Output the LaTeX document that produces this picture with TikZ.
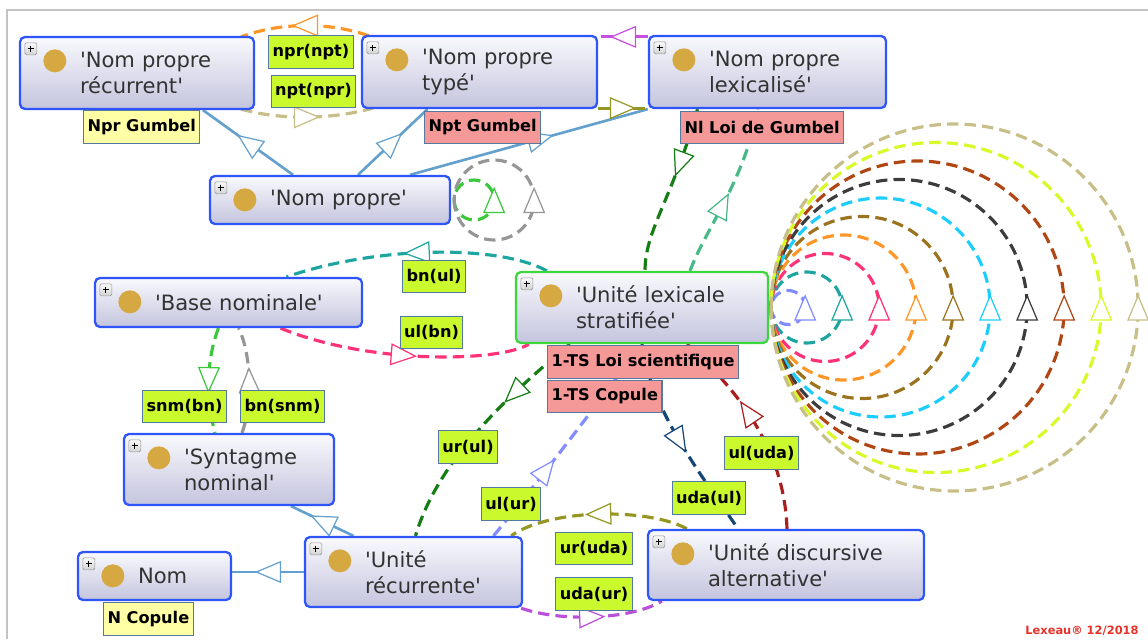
\documentclass[tikz,border=0pt]{standalone}
\usepackage{fontspec}
\setmainfont{DejaVu Sans}[Ligatures=TeXOff]
\usepackage{xcolor}
\usetikzlibrary{arrows.meta,decorations.markings}

% Box and tag colours
\definecolor{clsTop}{RGB}{249,249,253}
\definecolor{clsBot}{RGB}{196,196,222}
\definecolor{clsBlue}{RGB}{45,85,250}
\definecolor{clsGreen}{RGB}{60,215,60}
\definecolor{clsText}{RGB}{50,50,50}
\definecolor{dotGold}{RGB}{214,168,66}
\definecolor{tagLine}{RGB}{85,120,160}
\definecolor{tagLime}{RGB}{202,250,45}
\definecolor{tagYellow}{RGB}{255,255,165}
\definecolor{tagPink}{RGB}{245,152,152}
\definecolor{isaBlue}{RGB}{100,160,205}
\definecolor{frameGray}{RGB}{195,195,195}
\definecolor{markRed}{RGB}{230,50,40}
% Property colours
\definecolor{cOrange}{RGB}{255,150,40}
\definecolor{cTan}{RGB}{200,190,135}
\definecolor{cMagenta}{RGB}{200,80,225}
\definecolor{cOlive}{RGB}{150,150,35}
\definecolor{cGreen}{RGB}{60,200,60}
\definecolor{cGray}{RGB}{150,150,150}
\definecolor{cDarkGreen}{RGB}{20,125,20}
\definecolor{cSeaGreen}{RGB}{70,185,135}
\definecolor{cTeal}{RGB}{30,165,160}
\definecolor{cPink}{RGB}{255,50,120}
\definecolor{cPeri}{RGB}{130,140,255}
\definecolor{cNavy}{RGB}{20,70,120}
\definecolor{cDarkRed}{RGB}{170,30,30}
\definecolor{cPurple}{RGB}{185,80,220}
\definecolor{cBrown}{RGB}{155,115,30}
\definecolor{cCyan}{RGB}{30,205,255}
\definecolor{cCoal}{RGB}{60,60,60}
\definecolor{cRust}{RGB}{175,70,20}
\definecolor{cLemon}{RGB}{215,250,40}

\tikzset{openTri/.tip={Triangle[length=15pt,width=12.5pt,fill=white,line width=0.7pt]}}

\pgfdeclarelayer{bg}
\pgfsetlayers{bg,main}

\begin{document}
\begin{tikzpicture}[
    x=0.2mm,
    y=-0.2mm,
    midarrow/.style={postaction={decorate},
        decoration={markings,
            mark=at position #1 with {\arrow[xshift=7.5pt]{openTri}}}},
    midarrow/.default=0.5,
    isa/.style={draw=isaBlue,line width=1.5pt,midarrow=#1},
    isa/.default=0.5,
    rel/.style 2 args={draw=#1,line width=1.8pt,
        dash pattern=on 6.5pt off 3.5pt,midarrow=#2},
    cls/.style 2 args={rectangle,rounded corners=1mm,
        draw=clsBlue,line width=1.3pt,
        top color=clsTop,bottom color=clsBot,
        minimum width=#1*0.2mm,minimum height=#2*0.2mm,
        text width=(#1-10)*0.2mm,inner xsep=0pt,inner ysep=0pt,
        align=left,text=clsText,
        font=\fontsize{12}{14.7}\selectfont,
        execute at begin node={\leftskip=11mm}},
    tag/.style={rectangle,draw=tagLine,line width=0.6pt,fill=#1,
        minimum height=6.5mm,inner xsep=0.8mm,inner ysep=0pt,
        font=\fontsize{9.2}{10}\selectfont\bfseries},
    tag/.default=tagLime,
    plusicon/.style={draw=gray!80,top color=gray!5,bottom color=gray!35,
        line width=0.4pt,rounded corners=0.3mm}
]

\useasboundingbox (0,0) rectangle (1148,639);

% Panel frame
\draw[frameGray,line width=0.6pt] (7,639) -- (7,10) -- (1148,10);

% Classes
\node[cls={234}{72}] (npr) at (137,73) {'Nom propre\\récurrent'};
\node[cls={235}{72}] (npt) at (479.5,72) {'Nom propre\\typé'};
\node[cls={237}{72}] (npl) at (767.5,72) {'Nom propre\\lexicalisé'};
\node[cls={240}{48}] (np) at (330,200) {'Nom propre'};
\node[cls={267}{49}] (bn) at (228.5,302.5) {'Base nominale'};
\node[cls={252}{71},draw=clsGreen] (ul) at (642,307.5)
    {'Unité lexicale\\stratifiée'};
\node[cls={210}{71}] (snm) at (229,469.5) {'Syntagme\\nominal'};
\node[cls={153}{48}] (nom) at (154.5,576) {Nom};
\node[cls={217}{70}] (ur) at (413.5,572) {'Unité\\récurrente'};
\node[cls={276}{70}] (uda) at (786,565)
    {'Unité discursive\\alternative'};

% Expand icon and class dot
\foreach \n in {npr,npt,npl,np,bn,ul,snm,nom,ur,uda}{
  \draw[plusicon] ([shift={(6,7)}]\n.north west) rectangle ++(12,12);
  \draw[line width=0.7pt]
    ([shift={(9,13)}]\n.north west) -- ++(6,0)
    ([shift={(12,10)}]\n.north west) -- ++(0,6);
  \fill[dotGold] ([shift={(36,25)}]\n.north west) circle[radius=11.5];
}

% Annotations
\node[tag=tagYellow,anchor=west] (nprNote) at (83,127) {Npr Gumbel};
\node[tag=tagPink,anchor=west] (nptNote) at (424,127.5) {Npt Gumbel};
\node[tag=tagPink,anchor=west] (nplNote) at (680,127.5) {Nl Loi de Gumbel};
\node[tag=tagPink,anchor=west] (ulNoteA) at (547,362)
    {1-TS Loi scientifique};
\node[tag=tagPink,anchor=west] (ulNoteB) at (547,396.5) {1-TS Copule};
\node[tag=tagYellow,anchor=west] (nomNote) at (103,619) {N Copule};

% Property names
\node[tag] (lNprNpt) at (311,52) {npr(npt)};
\node[tag] (lNptNpr) at (313.5,91.5) {npt(npr)};
\node[tag] (lBnUl) at (434,276.5) {bn(ul)};
\node[tag] (lUlBn) at (431.5,332.5) {ul(bn)};
\node[tag] (lSnmBn) at (184.5,406.5) {snm(bn)};
\node[tag] (lBnSnm) at (282.5,406.5) {bn(snm)};
\node[tag] (lUrUl) at (468,447) {ur(ul)};
\node[tag] (lUlUr) at (511,504) {ul(ur)};
\node[tag] (lUlUda) at (761.5,453) {ul(uda)};
\node[tag] (lUdaUl) at (709,498) {uda(ul)};
\node[tag] (lUrUda) at (594,548.5) {ur(uda)};
\node[tag] (lUdaUr) at (594,594) {uda(ur)};

% Stamp
\node[anchor=base west,inner sep=0pt,text=markRed,
    font=\fontsize{6.5}{8}\selectfont\bfseries] (stamp) at (1025,634)
    {Lexeau® 12/2018};

\begin{pgfonlayer}{bg}
% Subclass links
\draw[isa] ([shift={(-37,0)}]np.north) -- ([shift={(66,0)}]npr.south);
\draw[isa] ([shift={(28,0)}]np.north) -- ([shift={(-52,0)}]npt.south);
\draw[isa=0.55] ([shift={(80,0)}]np.north) -- (npl.south west);
\draw[isa] ([shift={(-60,0)}]ur.north) -- ([shift={(62,0)}]snm.south);
\draw[isa] (ur.west) -- (ur.west -| nom.east);

% Top row properties
\draw[rel={cOrange}{0.5}] ([shift={(8,1)}]npt.north west)
    .. controls (330,22) and (280,22) .. ([shift={(-14,1)}]npr.north east);
\draw[rel={cTan}{0.5}] ([shift={(-14,-1)}]npr.south east)
    .. controls (280,120) and (330,120) .. ([shift={(12,-1)}]npt.south west);
\draw[rel={cMagenta}{0.5}] ([shift={(0,2)}]npl.north west)
    -- ([shift={(0,2)}]npt.north east);
\draw[rel={cOlive}{0.5}] ([shift={(0,-1)}]npt.south east)
    -- ([shift={(0,-1)}]npl.south west);

% Self loops
\draw[rel={cGreen}{0.5}] ([shift={(3,0)}]np.east)
    arc[start angle=180,end angle=-180,radius=20];
\draw[rel={cGray}{0.5}] ([shift={(3,0)}]np.east)
    arc[start angle=180,end angle=-180,radius=40];
\foreach \c [count=\i from 0] in
    {cPeri,cTeal,cPink,cOrange,cBrown,cCyan,cCoal,cRust,cLemon,cTan}
  \draw[rel={\c}{0.5}] ([shift={(2,0)}]ul.east)
    arc[start angle=180,end angle=-180,radius={17+18.5*\i}];

% Links of the stratified unit
\draw[rel={cDarkGreen}{0.34}] ([shift={(-70,0)}]npl.south)
    .. controls (672,200) and (645,230) .. ([shift={(3,0)}]ul.north);
\draw[rel={cSeaGreen}{0.42}] ([shift={(48,0)}]ul.north)
    .. controls (705,230) and (745,180) .. ([shift={(-10,0)}]npl.south);
\draw[rel={cTeal}{0.5}] ([shift={(32,0)}]ul.north west)
    .. controls (500,245) and (380,245) .. ([shift={(58,0)}]bn.north);
\draw[rel={cPink}{0.5}] ([shift={(52,0)}]bn.south)
    .. controls (370,365) and (500,362) .. ([shift={(14,0)}]ul.south west);
\draw[rel={cGreen}{0.5}] ([shift={(-10,0)}]bn.south)
    .. controls (206,360) and (206,400) .. ([shift={(-14,0)}]snm.north);
\draw[rel={cGray}{0.5}] ([shift={(13,0)}]snm.north)
    .. controls (254,400) and (250,350) .. ([shift={(10,0)}]bn.south);
\draw[rel={cDarkGreen}{0.3}] ([shift={(55,0)}]ul.south west)
    .. controls (490,410) and (435,470) .. ([shift={(2,0)}]ur.north);
\draw[rel={cPeri}{0.35}] ([shift={(80,0)}]ur.north)
    .. controls (540,480) and (600,400) .. (ul.south);
\draw[rel={cNavy}{0.5}] (ul.south)
    .. controls (650,410) and (705,480) .. ([shift={(-48,0)}]uda.north);
\draw[rel={cDarkRed}{0.58}] ([shift={(1,0)}]uda.north)
    .. controls (785,470) and (760,410) .. ([shift={(45,0)}]ul.south);

% Bottom row properties
\draw[rel={cOlive}{0.5}] ([shift={(40,0)}]uda.north west)
    .. controls (650,508) and (550,508) .. ([shift={(-12,0)}]ur.north east);
\draw[rel={cPurple}{0.5}] ([shift={(-2,0)}]ur.south east)
    .. controls (560,622) and (630,620) .. ([shift={(15,0)}]uda.south west);
\end{pgfonlayer}

\end{tikzpicture}
\end{document}
